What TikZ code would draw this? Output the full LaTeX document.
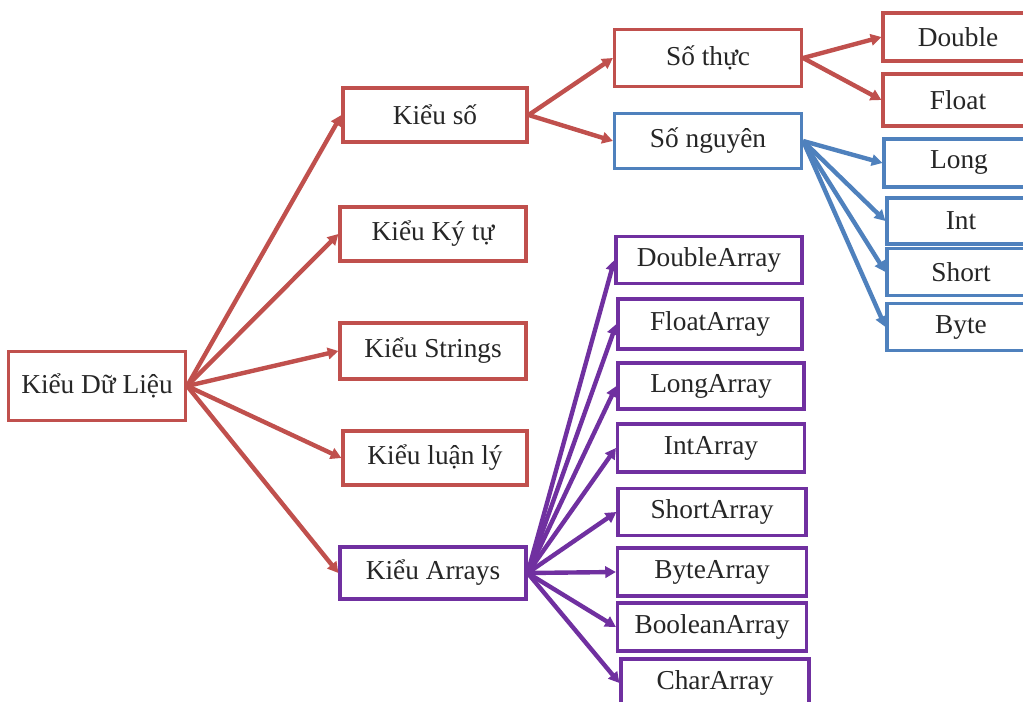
\documentclass[tikz,border=0pt]{standalone}
\usepackage{fontspec}
\setmainfont{Liberation Serif}
\usetikzlibrary{arrows.meta}
\definecolor{cred}{HTML}{C0504D}
\definecolor{cblue}{HTML}{4F81BD}
\definecolor{cpurple}{HTML}{7030A0}
\begin{document}
\begin{tikzpicture}[x=0.75pt,y=-0.75pt,
  box/.style={draw, line width=2.4pt, fill=white, inner sep=0pt,
    font=\fontsize{20.5}{24}\selectfont, text=black!85},
  rbox/.style={box, draw=cred},
  bbox/.style={box, draw=cblue},
  pbox/.style={box, draw=cpurple},
  conn/.style={line width=3.3pt, -{Triangle[length=8pt,width=8.5pt]}},
  rconn/.style={conn, draw=cred},
  bconn/.style={conn, draw=cblue},
  pconn/.style={conn, draw=cpurple}]
\useasboundingbox (0,0) rectangle (1023,702);
\clip (0,0) rectangle (1023,702);
\fill[white] (0,0) rectangle (1023,702);
% nodes
\node[rbox, minimum width=177*0.75pt, minimum height=69*0.75pt] (top) at (97,386) {Kiểu Dữ Liệu};
\node[rbox, minimum width=184*0.75pt, minimum height=54*0.75pt] (ks) at (435,115) {Kiểu số};
\node[rbox, minimum width=186*0.75pt, minimum height=54*0.75pt] (kkt) at (433,234) {Kiểu Ký tự};
\node[rbox, minimum width=186*0.75pt, minimum height=56*0.75pt] (kstr) at (433,351) {Kiểu Strings};
\node[rbox, minimum width=184*0.75pt, minimum height=54*0.75pt] (kll) at (435,458) {Kiểu luận lý};
\node[pbox, minimum width=186*0.75pt, minimum height=52*0.75pt] (karr) at (433,573) {Kiểu Arrays};
\node[rbox, minimum width=187*0.75pt, minimum height=57*0.75pt] (sthuc) at (708,58) {Số thực};
\node[bbox, minimum width=187*0.75pt, minimum height=55*0.75pt] (sng) at (708,141) {Số nguyên};
\node[rbox, minimum width=150*0.75pt, minimum height=48*0.75pt] (dbl) at (958,37) {Double};
\node[rbox, minimum width=150*0.75pt, minimum height=52*0.75pt] (flt) at (958,100) {Float};
\node[bbox, minimum width=150*0.75pt, minimum height=48*0.75pt] (lng) at (959,163) {Long};
\node[bbox, minimum width=148*0.75pt, minimum height=46*0.75pt] (int) at (961,221) {Int};
\node[bbox, minimum width=148*0.75pt, minimum height=47*0.75pt] (sht) at (961,272) {Short};
\node[bbox, minimum width=148*0.75pt, minimum height=47*0.75pt] (byt) at (961,327) {Byte};
\node[pbox, minimum width=186*0.75pt, minimum height=47*0.75pt] (dA) at (709,260) {DoubleArray};
\node[pbox, minimum width=184*0.75pt, minimum height=50*0.75pt] (fA) at (710,324) {FloatArray};
\node[pbox, minimum width=186*0.75pt, minimum height=46*0.75pt] (lA) at (711,386) {LongArray};
\node[pbox, minimum width=187*0.75pt, minimum height=48*0.75pt] (iA) at (711,448) {IntArray};
\node[pbox, minimum width=188*0.75pt, minimum height=47*0.75pt] (sA) at (712,512) {ShortArray};
\node[pbox, minimum width=189*0.75pt, minimum height=48*0.75pt] (bA) at (712,572) {ByteArray};
\node[pbox, minimum width=189*0.75pt, minimum height=48*0.75pt] (boA) at (712,627) {BooleanArray};
\node[pbox, minimum width=188*0.75pt, minimum height=48*0.75pt] (cA) at (715,683) {CharArray};
% connectors
\foreach \t in {ks,kkt,kstr,kll,karr} \draw[rconn] (top.east) -- (\t.west);
\foreach \t in {sthuc,sng} \draw[rconn] (ks.east) -- (\t.west);
\foreach \t in {dbl,flt} \draw[rconn] (sthuc.east) -- (\t.west);
\foreach \t in {lng,int,sht,byt} \draw[bconn] (sng.east) -- (\t.west);
\foreach \t in {dA,fA,lA,iA,sA,bA,boA,cA} \draw[pconn] (karr.east) -- (\t.west);
\end{tikzpicture}
\end{document}
